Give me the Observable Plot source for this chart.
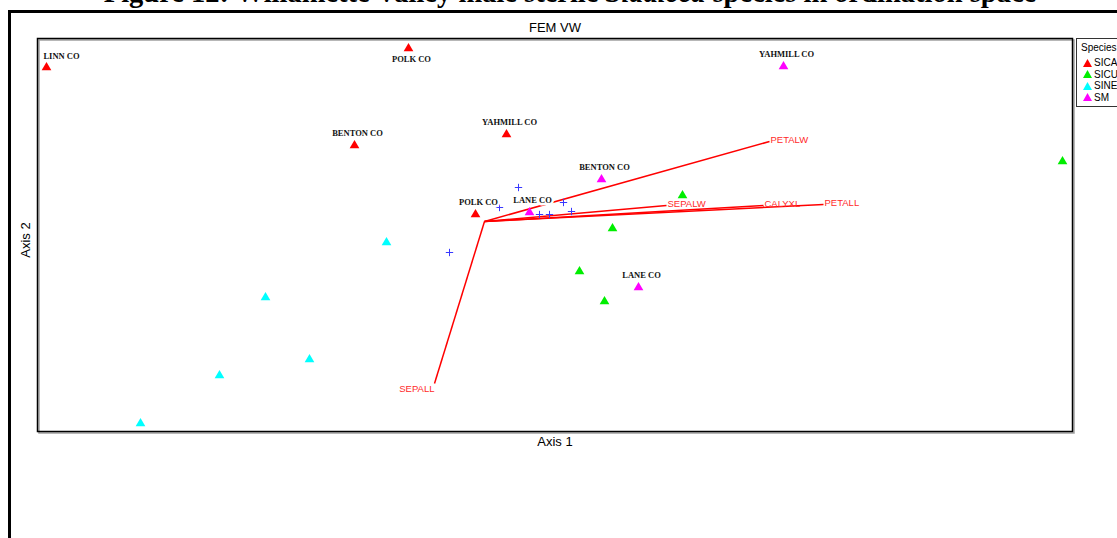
<!DOCTYPE html>
<html>
<head>
<meta charset="utf-8">
<script src="https://cdn.jsdelivr.net/npm/d3@7"></script>
<script src="https://cdn.jsdelivr.net/npm/@observablehq/plot@0.6"></script>
<style>
html, body { margin: 0; padding: 0; background: #fff; }
#wrap { position: relative; width: 1117px; height: 538px; overflow: hidden; background: #fff; }
#title { position: absolute; left: 0; width: 1140px; top: -23px; line-height: 28px; text-align: center;
  font: bold 28.5px "Liberation Serif", "Times New Roman", serif; white-space: nowrap; color: #000; }
#frame { position: absolute; left: 8px; top: 10px; width: 1200px; height: 600px;
  border-left: 3px solid #000; border-top: 3px solid #000; }
#chart { position: absolute; left: 0; top: 0; }
#legend { position: absolute; left: 1076px; top: 38px; width: 70px; height: 67px; border: 1px solid #333;
  background: #fff; font: 10px "Liberation Sans", Arial, sans-serif; color: #000; }
#legend .lt { position: absolute; left: 4px; top: 3px; line-height: 12px; }
#legend .row { position: absolute; left: 0; height: 11.5px; line-height: 11.5px; white-space: nowrap; }
#legend .row svg { position: absolute; left: 6px; top: 1.5px; }
#legend .row span { position: absolute; left: 17px; top: 0; }
</style>
</head>
<body>
<div id="wrap">
  <div id="title">Figure 12: Willamette Valley male sterile <i>Sidalcea</i> species in ordination space</div>
  <div id="frame"></div>
  <div id="chart"></div>
  <div id="legend"></div>
</div>
<script>
// ---- data (ordination scores) ----
const species = ["SICA", "SICU", "SINE", "SM"];
const speciesColors = ["#ff0000", "#00ee00", "#00ffff", "#ff00ff"];

const pointSpecies = ["SICA","SICA","SICA","SICA","SICA",
                      "SICU","SICU","SICU","SICU","SICU",
                      "SINE","SINE","SINE","SINE","SINE",
                      "SM","SM","SM","SM"];
const axis1 = [-4.38, -0.76, -1.30, 0.22, -0.09,
               5.78, 1.98, 1.28, 0.95, 1.20,
               -0.98, -2.19, -1.75, -2.65, -3.44,
               2.99, 1.17, 0.45, 1.54];
const axis2 = [1.54, 1.73, 0.76, 0.87, 0.07,
               0.60, 0.26, -0.07, -0.50, -0.80,
               -0.21, -0.76, -1.38, -1.54, -2.02,
               1.55, 0.42, 0.09, -0.66];
const pointLabels = ["LINN CO", "POLK CO", "BENTON CO", "YAHMILL CO", "POLK CO",
                     "", "", "", "", "",
                     "", "", "", "", "",
                     "YAHMILL CO", "BENTON CO", "LANE CO", "LANE CO"];

const crossAxis1 = [0.34, 0.15, 0.79, 0.55, 0.65, 0.87, -0.35];
const crossAxis2 = [0.34, 0.14, 0.19, 0.07, 0.07, 0.10, -0.31];

const vectorNames = ["PETALW", "SEPALW", "CALYXL", "PETALL", "SEPALL"];
const vectorAxis1 = [2.85, 1.82, 2.79, 3.39, -0.50];
const vectorAxis2 = [0.80, 0.16, 0.16, 0.17, -1.62];
const origin = [0, 0];

const xDomain = [-4.47, 5.88];
const yDomain = [-2.10, 1.83];

const plotTitle = "FEM VW";
const xLabel = "Axis 1";
const yLabel = "Axis 2";
const legendTitle = "Species";

// ---- build tables ----
const points = pointSpecies.map((s, i) => ({species: s, x: axis1[i], y: axis2[i], label: pointLabels[i]}));
const crosses = crossAxis1.map((x, i) => ({x, y: crossAxis2[i]}));
const vectors = vectorNames.map((n, i) => ({name: n, x: vectorAxis1[i], y: vectorAxis2[i]}));
const labeled = points.filter(d => d.label);
const nearTop = d => d.y > 1.65;
const nearLeft = d => d.x < -4;

const labelStyle = {x: "x", y: "y", text: "label", fontFamily: "Liberation Serif, Times New Roman, serif",
  fontWeight: "bold", fontSize: 8.5, fill: "#111", stroke: "white", strokeWidth: 5, paintOrder: "stroke"};
const vecLabelStyle = {x: "x", y: "y", text: "name", fill: "#ff2a2a", fontSize: 9.5,
  fontFamily: "Liberation Sans, Arial, sans-serif"};
const axisText = {fontSize: 13, lineAnchor: "middle", textAnchor: "middle"};

const chart = Plot.plot({
  width: 1117, height: 538,
  marginLeft: 37, marginRight: 45, marginTop: 38, marginBottom: 107,
  x: {domain: xDomain, axis: null},
  y: {domain: yDomain, axis: null},
  color: {domain: species, range: speciesColors},
  style: {background: "transparent", overflow: "visible", fontFamily: "Liberation Sans, Arial, sans-serif"},
  marks: [
    Plot.frame({stroke: "#a0a0a0", strokeWidth: 1.5, dx: 1.5, dy: 1.5}),
    Plot.frame({stroke: "#000", strokeWidth: 1.5}),
    Plot.text([plotTitle], {...axisText, frameAnchor: "top", dy: -11}),
    Plot.text([xLabel], {...axisText, frameAnchor: "bottom", dy: 10}),
    Plot.text([yLabel], {...axisText, frameAnchor: "left", dx: -12, dy: 5, rotate: -90}),
    Plot.link(vectors, {x1: () => origin[0], y1: () => origin[1], x2: "x", y2: "y", stroke: "#ff0000", strokeWidth: 1.5}),
    Plot.text(vectors.filter(d => d.x >= 0), {...vecLabelStyle, textAnchor: "start", lineAnchor: "bottom", dx: 1, dy: 1}),
    Plot.text(vectors.filter(d => d.x < 0), {...vecLabelStyle, textAnchor: "end", lineAnchor: "top", dy: 2}),
    Plot.dot(crosses, {x: "x", y: "y", symbol: "plus", r: 2.5, stroke: "#3838ff", strokeWidth: 1}),
    Plot.dot(points, {x: "x", y: "y", fill: "species", symbol: "triangle", r: 3.6}),
    Plot.text(labeled.filter(d => !nearTop(d) && !nearLeft(d)), {...labelStyle, dx: 3, dy: -12}),
    Plot.text(labeled.filter(d => nearTop(d)), {...labelStyle, dx: 3, dy: 11}),
    Plot.text(labeled.filter(d => nearLeft(d)), {...labelStyle, dx: 15, dy: -11})
  ]
});
document.getElementById("chart").appendChild(chart);

// ---- legend ----
const leg = document.getElementById("legend");
const lt = document.createElement("div");
lt.className = "lt"; lt.textContent = legendTitle; leg.appendChild(lt);
species.forEach((s, i) => {
  const row = document.createElement("div");
  row.className = "row";
  row.style.top = (18 + i * 11.5) + "px";
  row.innerHTML = `<svg width="9" height="8"><path d="M4.5,0L9,8L0,8Z" fill="${speciesColors[i]}"/></svg><span>${s}</span>`;
  leg.appendChild(row);
});
</script>
</body>
</html>
